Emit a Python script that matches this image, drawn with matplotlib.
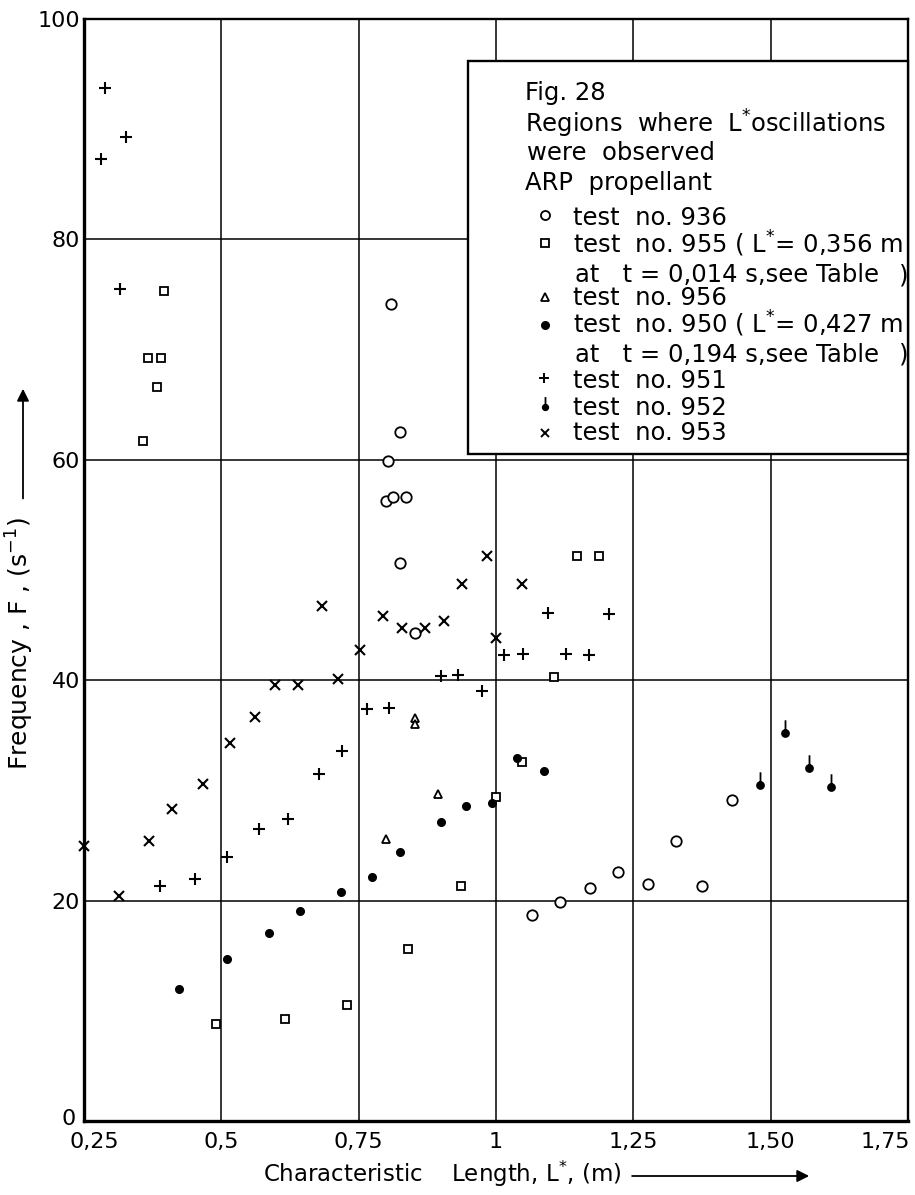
import numpy as np
import matplotlib.pyplot as plt
from matplotlib.path import Path
from matplotlib.patches import Rectangle
from matplotlib.transforms import ScaledTranslation

# test no. 936 (open circles)
x_936 = [0.809, 0.826, 0.803, 0.800, 0.812, 0.836, 0.826, 0.853,
         1.065, 1.117, 1.172, 1.222, 1.276, 1.328, 1.375, 1.430]
y_936 = [74.1, 62.5, 59.9, 56.3, 56.6, 56.6, 50.6, 44.3,
         18.7, 19.9, 21.1, 22.6, 21.5, 25.4, 21.3, 29.1]

# test no. 955 (open squares)
x_955 = [0.395, 0.367, 0.390, 0.383, 0.358, 1.147, 1.188, 1.106,
         1.048, 1.000, 0.936, 0.840, 0.490, 0.615, 0.728]
y_955 = [75.3, 69.2, 69.2, 66.6, 61.7, 51.3, 51.3, 40.3,
         32.6, 29.4, 21.3, 15.6, 8.8, 9.3, 10.5]

# test no. 956 (open triangles)
x_956 = [0.853, 0.853, 0.894, 0.800]
y_956 = [36.6, 36.0, 29.7, 25.6]

# test no. 950 (filled dots)
x_950 = [0.423, 0.511, 0.586, 0.644, 0.718, 0.775, 0.826, 0.900,
         0.945, 0.993, 1.039, 1.087]
y_950 = [12.0, 14.7, 17.1, 19.1, 20.8, 22.1, 24.4, 27.1,
         28.6, 28.9, 32.9, 31.8]

# test no. 951 (plus)
x_951 = [0.288, 0.327, 0.281, 0.315, 0.389, 0.452, 0.511, 0.569,
         0.621, 0.678, 0.720, 0.766, 0.806, 0.900, 0.930, 0.974,
         1.014, 1.050, 1.094, 1.127, 1.169, 1.205]
y_951 = [93.7, 89.3, 87.3, 75.5, 21.3, 22.0, 24.0, 26.5,
         27.4, 31.5, 33.6, 37.4, 37.5, 40.4, 40.5, 39.0,
         42.3, 42.4, 46.1, 42.4, 42.3, 46.0]

# test no. 952 (dot with stem)
x_952 = [1.480, 1.527, 1.569, 1.610]
y_952 = [30.5, 35.2, 32.0, 30.3]

# test no. 953 (crosses)
x_953 = [0.250, 0.314, 0.369, 0.410, 0.467, 0.515, 0.561, 0.598,
         0.639, 0.684, 0.713, 0.752, 0.794, 0.828, 0.871, 0.905,
         0.938, 0.984, 1.000, 1.047]
y_953 = [25.0, 20.4, 25.4, 28.3, 30.6, 34.3, 36.7, 39.6,
         39.6, 46.7, 40.1, 42.7, 45.8, 44.7, 44.7, 45.4,
         48.7, 51.3, 43.8, 48.7]

x_ticks = [0.25, 0.5, 0.75, 1.0, 1.25, 1.5, 1.75]
x_tick_labels = ["0,25", "0,5", "0,75", "1", "1,25", "1,50", "1,75"]
y_ticks = [0, 20, 40, 60, 80, 100]

W, H = 915, 1195


def fx(px):
    return px / W


def fy(py):
    return 1 - py / H


# dot with a vertical stem on top
circ = Path.unit_circle()
pin = Path(np.concatenate([circ.vertices, [[0, 0], [0, 3.8]]]),
           np.concatenate([circ.codes, [Path.MOVETO, Path.LINETO]]))

fig = plt.figure(figsize=(W / 100, H / 100), dpi=100)
ax = fig.add_axes([fx(84), fy(1121), 824 / W, 1102 / H])
ax.set_xlim(0.25, 1.75)
ax.set_ylim(0, 100)
ax.set_xticks(x_ticks)
ax.set_xticklabels(x_tick_labels)
ax.set_yticks(y_ticks)
ax.tick_params(length=0, labelsize=16)
ax.tick_params(axis='x', pad=8)
ax.tick_params(axis='y', pad=3)
ax.grid(True, color='k', lw=1.1)
ax.set_axisbelow(True)
for s in ax.spines.values():
    s.set_linewidth(1.7)
ax.spines['left'].set_linewidth(2.4)
ax.spines['bottom'].set_linewidth(2.4)

# first and last x tick labels sit inside the frame ends
xt = ax.get_xticklabels()
xt[0].set_transform(xt[0].get_transform() + ScaledTranslation(10 / 100, 0, fig.dpi_scale_trans))
xt[-1].set_horizontalalignment('right')
xt[-1].set_transform(xt[-1].get_transform() + ScaledTranslation(2 / 100, 0, fig.dpi_scale_trans))
yt = ax.get_yticklabels()
yt[0].set_transform(yt[0].get_transform() + ScaledTranslation(-4 / 100, 4 / 100, fig.dpi_scale_trans))

kw = dict(ls='none', color='k', clip_on=False, zorder=3)
ax.plot(x_936, y_936, marker='o', ms=7.5, mfc='white', mew=1.3, **kw)
ax.plot(x_955, y_955, marker='s', ms=5.5, mfc='white', mew=1.3, **kw)
ax.plot(x_956, y_956, marker='^', ms=6, mfc='white', mew=1.3, **kw)
ax.plot(x_950, y_950, marker='o', ms=5.5, **kw)
ax.plot(x_951, y_951, marker='+', ms=8, mew=1.5, **kw)
ax.plot(x_952, y_952, marker=pin, ms=19, mew=1.3, **kw)
ax.plot(x_953, y_953, marker='x', ms=7, mew=1.5, **kw)

# legend box
tf = fig.transFigure
ax.add_patch(Rectangle((fx(468), fy(454)), fx(908) - fx(468), fy(61) - fy(454),
                       transform=tf, fc='white', ec='k', lw=1.7,
                       clip_on=False, zorder=4))
lines = [
    ("Fig. 28", 525, 100),
    ("Regions  where  L$^{*}$oscillations", 525, 133),
    ("were  observed", 527, 160),
    ("ARP  propellant", 525, 190),
    ("test  no. 936", 573, 225),
    ("test  no. 955 ( L$^{*}$= 0,356 m", 573, 253),
    ("at   t = 0,014 s,see Table", 575, 282),
    (")", 899, 282),
    ("test  no. 956", 573, 305),
    ("test  no. 950 ( L$^{*}$= 0,427 m", 573, 333),
    ("at   t = 0,194 s,see Table", 575, 362),
    (")", 899, 362),
    ("test  no. 951", 573, 388),
    ("test  no. 952", 573, 415),
    ("test  no. 953", 573, 440),
]
for s, px, py in lines:
    ax.text(fx(px), fy(py), s, transform=tf, fontsize=17.5, va='baseline',
            ha='left', zorder=5)

lkw = dict(ls='none', color='k', transform=tf, clip_on=False, zorder=5)
ax.plot(fx(545), fy(215), marker='o', ms=6.5, mfc='white', mew=1.3, **lkw)
ax.plot(fx(545), fy(243), marker='s', ms=5.5, mfc='white', mew=1.3, **lkw)
ax.plot(fx(545), fy(297), marker='^', ms=5.5, mfc='white', mew=1.3, **lkw)
ax.plot(fx(545), fy(325), marker='o', ms=5.5, **lkw)
ax.plot(fx(544), fy(378), marker='+', ms=7, mew=1.4, **lkw)
ax.plot(fx(545), fy(407), marker=pin, ms=15, mew=1.3, **lkw)
ax.plot(fx(545), fy(433), marker='x', ms=6, mew=1.4, **lkw)

# axis labels with arrows
renderer = fig.canvas.get_renderer()
xl = fig.text(fx(263), fy(1182), "Characteristic    Length, L$^{*}$, (m)",
              fontsize=16.5, va='baseline', ha='left')
bb = xl.get_window_extent(renderer)
fig.add_artist(plt.Annotation("", xy=(fx(812), fy(1176)), xycoords=tf,
                              xytext=(bb.x1 / W + 8 / W, fy(1176)),
                              textcoords=tf,
                              arrowprops=dict(arrowstyle='-|>', lw=1.3,
                                              color='k', mutation_scale=18)))

yl = fig.text(fx(20), fy(770), "Frequency , F , (s$^{-1}$)", fontsize=18,
              rotation=90, va='bottom', ha='center')
bb = yl.get_window_extent(renderer)
fig.add_artist(plt.Annotation("", xy=(fx(23), fy(386)), xycoords=tf,
                              xytext=(fx(23), bb.y1 / H + 16 / H),
                              textcoords=tf,
                              arrowprops=dict(arrowstyle='-|>', lw=1.3,
                                              color='k', mutation_scale=18)))

fig.savefig("out.png", dpi=100)
